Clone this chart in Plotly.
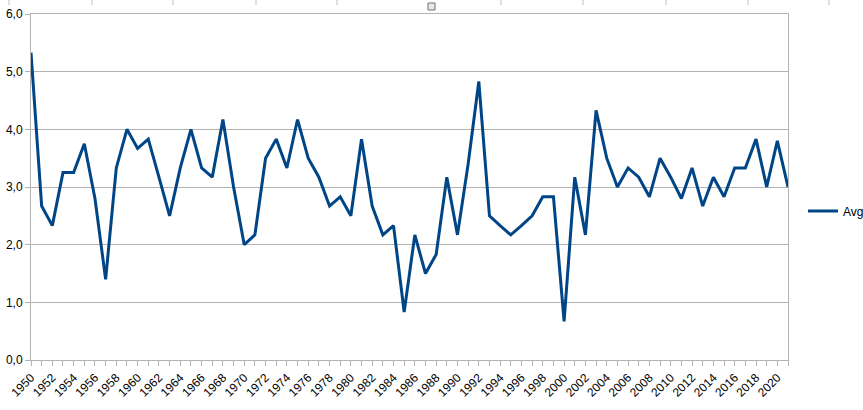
import plotly.graph_objects as go

years = list(range(1950, 2022))
avg = [
    5.33, 2.67, 2.33, 3.25, 3.25, 3.75, 2.8, 1.4, 3.33, 4.0,
    3.67, 3.83, 3.17, 2.5, 3.33, 4.0, 3.33, 3.17, 4.17, 3.0,
    2.0, 2.17, 3.5, 3.83, 3.33, 4.17, 3.5, 3.17, 2.67, 2.83,
    2.5, 3.83, 2.67, 2.17, 2.33, 0.83, 2.17, 1.5, 1.83, 3.17,
    2.17, 3.4, 4.83, 2.5, 2.33, 2.17, 2.33, 2.5, 2.83, 2.83,
    0.67, 3.17, 2.17, 4.33, 3.5, 3.0, 3.33, 3.17, 2.83, 3.5,
    3.17, 2.8, 3.33, 2.67, 3.17, 2.83, 3.33, 3.33, 3.83, 3.0,
    3.8, 3.0,
]

GRID = "#b3b3b3"
LINE = "#004586"

fig = go.Figure()
fig.add_trace(go.Scatter(
    x=years, y=avg,
    mode="lines",
    line=dict(color=LINE, width=3),
    name="Avg",
))

# spreadsheet column marks along the top edge
W, H = 863, 410
PL, PR, PT, PB = 31, 788, 14, 360
pw, ph = PR - PL, PB - PT
shapes = []
for px in [9, 92, 173, 256, 337, 501, 583, 666, 748, 829]:
    shapes.append(dict(
        type="line", xref="paper", yref="paper",
        x0=(px - PL) / pw, x1=(px - PL) / pw,
        y0=(PB - 0) / ph, y1=(PB - 5) / ph,
        line=dict(color="#c0c0c0", width=1),
    ))
shapes.append(dict(
    type="rect", xref="paper", yref="paper",
    x0=(428 - PL) / pw, x1=(435 - PL) / pw,
    y0=(PB - 10) / ph, y1=(PB - 3) / ph,
    line=dict(color="#707070", width=1), fillcolor="#e8e8e8",
))

fig.update_layout(
    width=W, height=H,
    margin=dict(l=PL, r=W - PR, t=PT, b=H - PB, autoexpand=False),
    paper_bgcolor="white",
    plot_bgcolor="white",
    separators=",.",
    font=dict(family="Liberation Sans, Arial, sans-serif", size=12, color="black"),
    showlegend=True,
    legend=dict(
        x=(803 - PL) / pw, y=(PB - 211) / ph, xanchor="left", yanchor="middle",
        font=dict(size=12), itemwidth=30,
        bgcolor="rgba(0,0,0,0)",
    ),
    shapes=shapes,
    xaxis=dict(
        range=[1950, 2021],
        tick0=1950, dtick=2,
        tickangle=-45,
        tickfont=dict(size=12),
        automargin=False,
        showgrid=False,
        zeroline=False,
        showline=True, linecolor=GRID, linewidth=1, mirror=True,
        ticks="outside", ticklen=5, tickcolor=GRID,
        minor=dict(dtick=1, ticks="outside", ticklen=5, tickcolor=GRID, showgrid=False),
    ),
    yaxis=dict(
        range=[0, 6],
        dtick=1,
        tickformat=".1f",
        automargin=False,
        showgrid=True, gridcolor=GRID, gridwidth=1,
        zeroline=False,
        showline=True, linecolor=GRID, linewidth=1, mirror=True,
        ticks="outside", ticklen=5, tickcolor=GRID,
    ),
)

fig.write_html(
    "out.html",
    config={"displayModeBar": False},
    post_script="document.body.style.margin='0px';",
)
